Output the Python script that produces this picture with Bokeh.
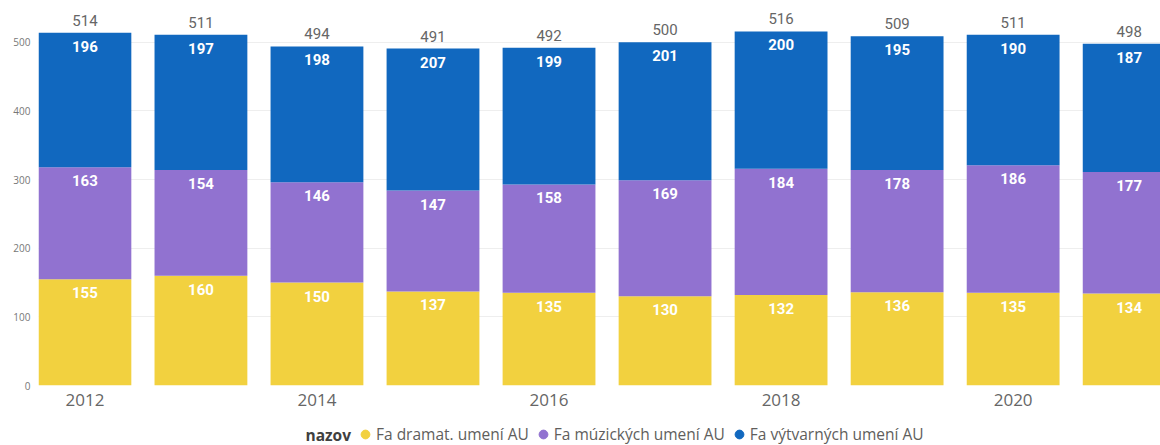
import numpy as np
from bokeh.plotting import figure
from bokeh.layouts import column
from bokeh.models import ColumnDataSource, FixedTicker, Legend, LegendItem, Range1d, Label
from bokeh.core.properties import value
from bokeh.embed import file_html
from bokeh.resources import INLINE

years = [2012, 2013, 2014, 2015, 2016, 2017, 2018, 2019, 2020, 2021]
dramat = [155, 160, 150, 137, 135, 130, 132, 136, 135, 134]
muzicke = [163, 154, 146, 147, 158, 169, 184, 178, 186, 177]
vytvarne = [196, 197, 198, 207, 199, 201, 200, 195, 190, 187]
series_names = ["Fa dramat. umení AU", "Fa múzických umení AU", "Fa výtvarných umení AU"]
legend_title = "nazov"
colors = ["#F2D13F", "#9172D0", "#1168BF"]
xticks = [2012, 2014, 2016, 2018, 2020]
yticks = [0, 100, 200, 300, 400, 500]

d = np.array(dramat)
m = np.array(muzicke)
v = np.array(vytvarne)
tot = d + m + v

src = ColumnDataSource(dict(
    x=years, d=dramat, m=muzicke, v=vytvarne,
    top_d=d, top_m=d + m, top_v=tot, tot=tot,
    ld=[str(a) for a in dramat], lm=[str(a) for a in muzicke],
    lv=[str(a) for a in vytvarne], lt=[str(a) for a in tot],
))

p = figure(width=1160, height=420, frame_width=1122, frame_height=385,
           output_backend="svg", toolbar_location=None,
           x_range=Range1d(2011.6, 2021.27), y_range=Range1d(0, 561),
           min_border_left=38, min_border_right=0, min_border_top=0, min_border_bottom=35)

p.vbar_stack(["d", "m", "v"], x="x", width=0.8, color=colors, source=src, line_width=0)

font = value("Roboto")
for col, top in [("ld", "top_d"), ("lm", "top_m"), ("lv", "top_v")]:
    p.text(x="x", y=top, text=col, source=src, text_align="center", text_baseline="top",
           y_offset=8, text_color="white", text_font=font, text_font_style="bold",
           text_font_size="15px")
p.text(x="x", y="tot", text="lt", source=src, text_align="center", text_baseline="bottom",
       y_offset=-7, text_color="#666666", text_font=font, text_font_size="15px")

p.xaxis.ticker = FixedTicker(ticks=xticks)
p.yaxis.ticker = FixedTicker(ticks=yticks)
p.xaxis.major_label_text_font_size = "17px"
p.xaxis.major_label_text_color = "#666666"
p.xaxis.major_label_text_font = "Open Sans"
p.yaxis.major_label_text_font_size = "10px"
p.yaxis.major_label_text_color = "#777777"
p.yaxis.major_label_text_font = "Open Sans"
for ax in (p.xaxis, p.yaxis):
    ax.axis_line_color = None
    ax.major_tick_line_color = None
    ax.minor_tick_line_color = None
    ax.major_tick_out = 0
    ax.major_tick_in = 0
p.yaxis.major_label_standoff = 8
p.xaxis.major_label_standoff = 8
p.xgrid.grid_line_color = None
p.ygrid.grid_line_color = "#EEEEEE"
p.outline_line_color = None

# legend strip below the chart
lf = figure(width=1160, height=25, output_backend="svg", toolbar_location=None,
            x_range=Range1d(0, 1), y_range=Range1d(0, 1),
            min_border_left=0, min_border_right=0, min_border_top=0, min_border_bottom=0)
lf.axis.visible = False
lf.grid.visible = False
lf.outline_line_color = None
items = []
for name, c in zip(series_names, colors):
    r = lf.scatter(x=[-1], y=[-1], marker="circle", size=9, color=c)
    items.append(LegendItem(label=name, renderers=[r]))
legend = Legend(items=items, orientation="horizontal", location=(316, 0),
                label_text_font="Open Sans", label_text_font_size="15.5px",
                label_text_color="#605E5C", glyph_width=22, glyph_height=22,
                label_standoff=0, spacing=3, border_line_alpha=0,
                background_fill_alpha=0, padding=0, margin=0, label_height=20)
lf.add_layout(legend, "center")
lf.add_layout(Label(x=267, y=11, x_units="screen", y_units="screen", text=legend_title,
                    text_font="Open Sans", text_font_style="bold", text_font_size="15.5px",
                    text_color="#404040", text_baseline="middle"))

layout = column(p, lf, spacing=0)
open("out.html", "w").write(file_html(layout, INLINE))
